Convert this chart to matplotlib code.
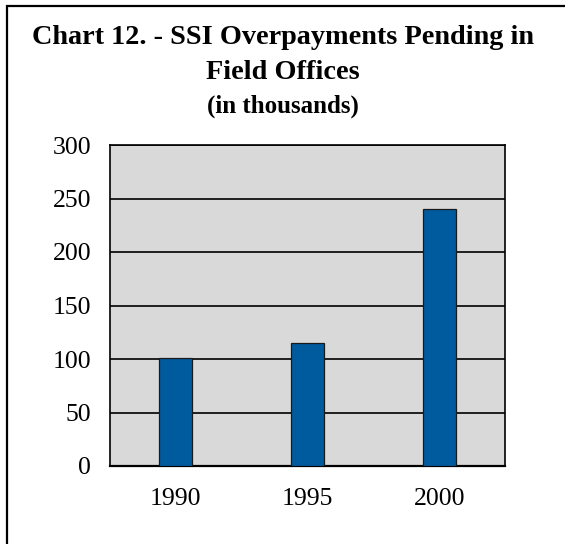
"""SSI overpayments pending in field offices, bar chart."""

import matplotlib
matplotlib.use("Agg")
import matplotlib.pyplot as plt
from matplotlib.patches import Rectangle

YEARS = ["1990", "1995", "2000"]
PENDING = [101, 115, 240]  # thousands
Y_TICKS = [0, 50, 100, 150, 200, 250, 300]

W, H = 565, 544
DPI = 100

plt.rcParams["font.family"] = ["Liberation Serif", "DejaVu Serif"]

fig = plt.figure(figsize=(W / DPI, H / DPI), dpi=DPI)

# outer frame (only left/top edges are visible in the crop)
fig.add_artist(Rectangle((7 / W, -0.1), 1.2, 1.1 - 6 / H, transform=fig.transFigure,
                         fill=False, edgecolor="black", linewidth=1.6))

fig.text(0.5, 1 - 44 / H, "Chart 12. - SSI Overpayments Pending in",
         ha="center", va="baseline", fontsize=20.3, fontweight="bold")
fig.text(0.5, 1 - 79 / H, "Field Offices",
         ha="center", va="baseline", fontsize=20.3, fontweight="bold")
fig.text(0.5, 1 - 113 / H, "(in thousands)",
         ha="center", va="baseline", fontsize=18, fontweight="bold")

# plot area in pixels: x 110-505, y 145-466
ax = fig.add_axes([110 / W, 1 - 466 / H, 395 / W, 321 / H])
ax.set_facecolor("#d9d9d9")
x = range(len(YEARS))
ax.bar(x, PENDING, width=0.25, color="#005b9e", edgecolor="#1a1a1a", linewidth=0.9, zorder=3)

ax.set_xlim(-0.5, len(YEARS) - 0.5)
ax.set_ylim(0, 300)
ax.set_yticks(Y_TICKS)
ax.set_xticks(list(x))
ax.set_xticklabels(YEARS)
ax.grid(axis="y", color="black", linewidth=1.2, zorder=1)
ax.set_axisbelow(True)
ax.tick_params(length=0, labelsize=18.5)
ax.tick_params(axis="y", pad=13.5)
ax.tick_params(axis="x", pad=16)
for sp in ax.spines.values():
    sp.set_color("black")
    sp.set_linewidth(1.2)
ax.spines["bottom"].set_linewidth(1.6)

fig.savefig("out.png", dpi=DPI)
